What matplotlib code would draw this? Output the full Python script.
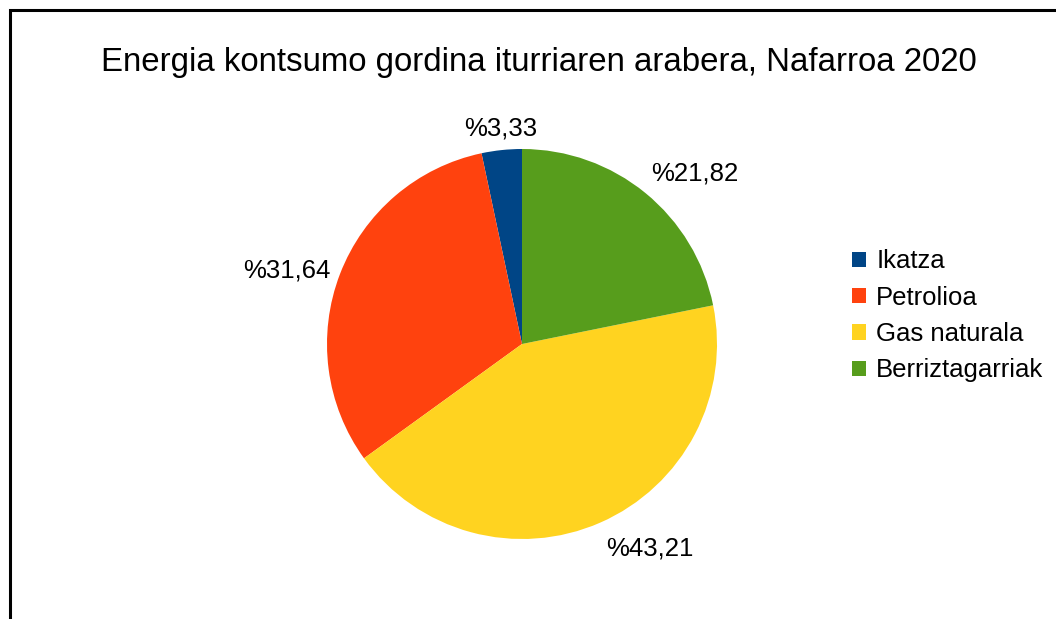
import numpy as np
import matplotlib
matplotlib.use("Agg")
import matplotlib.pyplot as plt
from matplotlib.patches import Patch, Rectangle

plt.rcParams['font.family'] = ['Liberation Sans', 'DejaVu Sans']

title = "Energia kontsumo gordina iturriaren arabera, Nafarroa 2020"
sources = ["Ikatza", "Petrolioa", "Gas naturala", "Berriztagarriak"]
shares = [3.33, 31.64, 43.21, 21.82]
pct_labels = ["%3,33", "%31,64", "%43,21", "%21,82"]
colors = ["#004586", "#ff420e", "#ffd320", "#579d1c"]

W, H = 1056, 619
fig = plt.figure(figsize=(W / 100, H / 100), dpi=100)

# outer frame (right and bottom run off the picture)
fig.patches.append(Rectangle((9.5 / W, -0.1), 1.2, (H - 9.5) / H + 0.1,
                             transform=fig.transFigure, fill=False,
                             edgecolor="black", linewidth=2.2))

fig.text(539 / W, 1 - 63 / H, title, ha="center", va="center", fontsize=23.8)

cx, cy, r = 522, 344, 195
ax = fig.add_axes([(cx - r) / W, (H - cy - r) / H, 2 * r / W, 2 * r / H])
wedges, _ = ax.pie(shares, colors=colors, startangle=90, counterclock=True,
                   wedgeprops=dict(linewidth=0))
ax.set_xlim(-1, 1)
ax.set_ylim(-1, 1)
ax.axis("off")

for w, lab in zip(wedges, pct_labels):
    ang = np.deg2rad((w.theta1 + w.theta2) / 2)
    c, s = np.cos(ang), np.sin(ang)
    ha = "center" if abs(c) < 0.2 else ("left" if c > 0 else "right")
    va = "center" if abs(s) < 0.5 else ("bottom" if s > 0 else "top")
    d = 1.08 if va == "top" else 1.05
    ax.text(d * c, d * s, lab, ha=ha, va=va, fontsize=18.5)

handles = [Patch(facecolor=col, edgecolor="none") for col in colors]
fig.legend(handles, sources, loc="center left",
           bbox_to_anchor=(839 / W, 1 - 316 / H), frameon=False, fontsize=18.5,
           handlelength=0.55, handleheight=0.55, handletextpad=0.4,
           labelspacing=0.48, borderpad=0)

fig.savefig("out.png", dpi=100)
